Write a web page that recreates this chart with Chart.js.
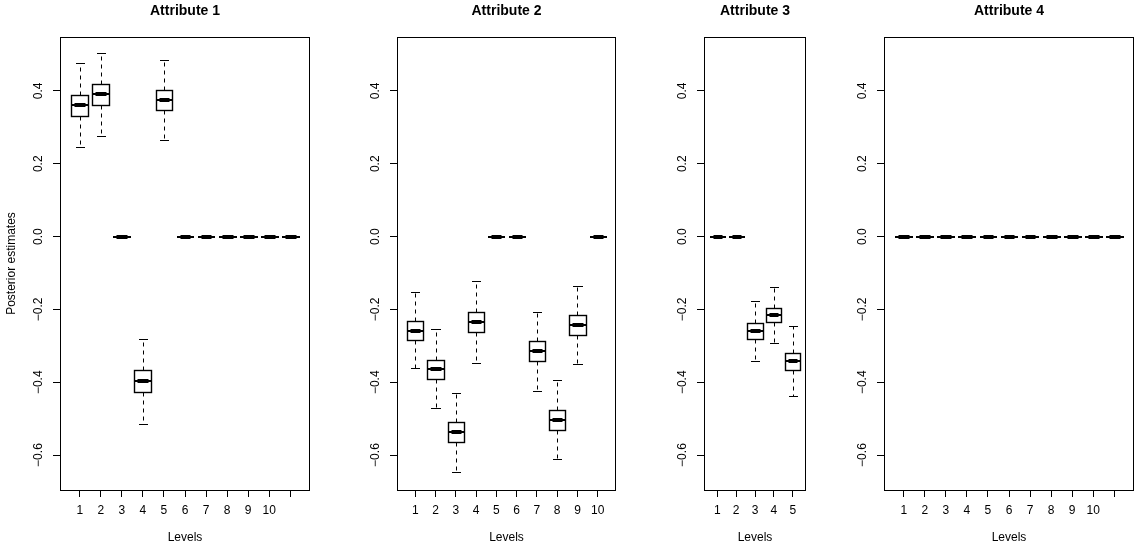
<!DOCTYPE html>
<html>
<head>
<meta charset="utf-8">
<script src="https://cdn.jsdelivr.net/npm/chart.js@4.4.1/dist/chart.umd.min.js"></script>
<style>
  html, body { margin: 0; padding: 0; background: #fff; }
  #wrap { position: relative; width: 1135px; height: 546px; overflow: hidden; }
  #wrap canvas { position: absolute; top: 0; }
</style>
</head>
<body>
<div id="wrap">
  <canvas id="c1"></canvas>
  <canvas id="c2"></canvas>
  <canvas id="c3"></canvas>
  <canvas id="c4"></canvas>
</div>
<script>
// posterior estimates per level: lower whisker, Q1, median, Q3, upper whisker
const attr1Levels = ['1', '2', '3', '4', '5', '6', '7', '8', '9', '10', ''];
const attr1Low  = [0.245, 0.277, 0, -0.515, 0.265, 0, 0, 0, 0, 0, 0];
const attr1Q1   = [0.332, 0.362, 0, -0.427, 0.348, 0, 0, 0, 0, 0, 0];
const attr1Med  = [0.361, 0.391, 0, -0.396, 0.375, 0, 0, 0, 0, 0, 0];
const attr1Q3   = [0.388, 0.420, 0, -0.367, 0.403, 0, 0, 0, 0, 0, 0];
const attr1High = [0.477, 0.503, 0, -0.280, 0.486, 0, 0, 0, 0, 0, 0];

const attr2Levels = ['1', '2', '3', '4', '5', '6', '7', '8', '9', '10'];
const attr2Low  = [-0.362, -0.472, -0.646, -0.347, 0, 0, -0.423, -0.611, -0.351, 0];
const attr2Q1   = [-0.285, -0.392, -0.565, -0.263, 0, 0, -0.342, -0.530, -0.269, 0];
const attr2Med  = [-0.258, -0.364, -0.538, -0.236, 0, 0, -0.314, -0.503, -0.243, 0];
const attr2Q3   = [-0.232, -0.338, -0.510, -0.207, 0, 0, -0.288, -0.476, -0.216, 0];
const attr2High = [-0.153, -0.255, -0.429, -0.123, 0, 0, -0.206, -0.395, -0.136, 0];

const attr3Levels = ['1', '2', '3', '4', '5'];
const attr3Low  = [0, 0, -0.342, -0.292, -0.439];
const attr3Q1   = [0, 0, -0.280, -0.235, -0.367];
const attr3Med  = [0, 0, -0.258, -0.215, -0.342];
const attr3Q3   = [0, 0, -0.238, -0.197, -0.320];
const attr3High = [0, 0, -0.176, -0.139, -0.246];

const attr4Levels = ['1', '2', '3', '4', '5', '6', '7', '8', '9', '10', ''];
const attr4Low  = [0, 0, 0, 0, 0, 0, 0, 0, 0, 0, 0];
const attr4Q1   = [0, 0, 0, 0, 0, 0, 0, 0, 0, 0, 0];
const attr4Med  = [0, 0, 0, 0, 0, 0, 0, 0, 0, 0, 0];
const attr4Q3   = [0, 0, 0, 0, 0, 0, 0, 0, 0, 0, 0];
const attr4High = [0, 0, 0, 0, 0, 0, 0, 0, 0, 0, 0];

const yMin = -0.696, yMax = 0.548;

Chart.defaults.font.family = '"Liberation Sans", Arial, Helvetica, sans-serif';
Chart.defaults.font.size = 12;
Chart.defaults.color = '#000';

const panels = [
  { id: 'c1', title: 'Attribute 1', levels: attr1Levels, low: attr1Low, q1: attr1Q1, med: attr1Med, q3: attr1Q3, high: attr1High,
    left: 0, width: 320, axisW: 60, padRight: 10, yTitle: true },
  { id: 'c2', title: 'Attribute 2', levels: attr2Levels, low: attr2Low, q1: attr2Q1, med: attr2Med, q3: attr2Q3, high: attr2High,
    left: 352, width: 274, axisW: 45, padRight: 10, yTitle: false },
  { id: 'c3', title: 'Attribute 3', levels: attr3Levels, low: attr3Low, q1: attr3Q1, med: attr3Med, q3: attr3Q3, high: attr3High,
    left: 659, width: 157, axisW: 45, padRight: 10, yTitle: false },
  { id: 'c4', title: 'Attribute 4', levels: attr4Levels, low: attr4Low, q1: attr4Q1, med: attr4Med, q3: attr4Q3, high: attr4High,
    left: 839, width: 296, axisW: 45, padRight: 1, yTitle: false }
];

function fmt(v) {
  if (Math.abs(v) < 1e-9) v = 0;
  return v.toFixed(1).replace('-', '\u2212');
}

// box outlines, whiskers, staples, medians, frame and rotated y labels (R boxplot look)
function boxPlugin(p) {
  return {
    id: 'boxExtras',
    afterDatasetsDraw(chart) {
      const ctx = chart.ctx, ys = chart.scales.y;
      const meta = chart.getDatasetMeta(0);
      ctx.save();
      ctx.strokeStyle = '#000';
      ctx.fillStyle = '#000';
      p.med.forEach((m, i) => {
        const bar = meta.data[i];
        const cx = bar.x;
        const half = bar.width / 2;
        const px = Math.round(cx) + 0.5;
        const l = Math.round(cx - half) + 0.5, r = Math.round(cx + half) + 0.5;
        const yq1 = Math.round(ys.getPixelForValue(p.q1[i])) + 0.5;
        const yq3 = Math.round(ys.getPixelForValue(p.q3[i])) + 0.5;
        const ylo = Math.round(ys.getPixelForValue(p.low[i])) + 0.5;
        const yhi = Math.round(ys.getPixelForValue(p.high[i])) + 0.5;
        ctx.lineWidth = 1;
        if (p.high[i] !== p.low[i]) {
          ctx.setLineDash([4, 4]);
          ctx.beginPath();
          ctx.moveTo(px, yq3); ctx.lineTo(px, yhi);
          ctx.moveTo(px, yq1); ctx.lineTo(px, ylo);
          ctx.stroke();
          ctx.setLineDash([]);
          ctx.beginPath();
          ctx.moveTo(Math.round(cx - half / 2), yhi); ctx.lineTo(Math.round(cx + half / 2) + 1, yhi);
          ctx.moveTo(Math.round(cx - half / 2), ylo); ctx.lineTo(Math.round(cx + half / 2) + 1, ylo);
          ctx.stroke();
          ctx.lineWidth = 1.4;
          ctx.strokeRect(l, yq3, r - l, yq1 - yq3);
        }
        const ym = Math.round(ys.getPixelForValue(m));
        ctx.fillRect(l - 0.5, ym - 1, r - l + 1, 2);
        ctx.fillRect(l + 3, ym - 2, r - l - 6, 4);
      });
      ctx.restore();
    },
    afterDraw(chart) {
      const ctx = chart.ctx, a = chart.chartArea, ys = chart.scales.y;
      ctx.save();
      ctx.strokeStyle = '#000';
      ctx.lineWidth = 1;
      ctx.strokeRect(a.left + 0.5, a.top + 0.5, a.right - a.left - 1, a.bottom - a.top);
      ctx.font = '12px "Liberation Sans", Arial, sans-serif';
      ctx.fillStyle = '#000';
      ctx.textAlign = 'center';
      ctx.textBaseline = 'middle';
      ys.ticks.forEach(t => {
        ctx.save();
        ctx.translate(a.left - 21, ys.getPixelForValue(t.value));
        ctx.rotate(-Math.PI / 2);
        ctx.fillText(fmt(t.value), 0, 0);
        ctx.restore();
      });
      ctx.restore();
    }
  };
}

panels.forEach(p => {
  const canvas = document.getElementById(p.id);
  canvas.width = p.width;
  canvas.height = 546;
  canvas.style.left = p.left + 'px';
  const n = p.levels.length;

  new Chart(canvas, {
    type: 'bar',
    data: {
      datasets: [{
        data: p.q1.map((v, i) => ({ x: i + 1, y: [v, p.q3[i]] })),
        backgroundColor: '#fff',
        borderWidth: 0,
        barPercentage: 0.8,
        categoryPercentage: 1
      }]
    },
    options: {
      responsive: false,
      animation: false,
      events: [],
      layout: { padding: { left: 0, right: p.padRight, top: 0, bottom: 0 } },
      plugins: {
        legend: { display: false },
        tooltip: { enabled: false },
        title: {
          display: true,
          text: p.title,
          fullSize: false,
          font: { size: 14, weight: 'bold' },
          color: '#000',
          padding: { top: 3, bottom: 17.2 }
        }
      },
      scales: {
        x: {
          type: 'linear',
          offset: false,
          min: 0.5 - 0.04 * n,
          max: n + 0.5 + 0.04 * n,
          afterFit: s => { s.height = 56; },
          border: { display: false },
          grid: { offset: false, drawOnChartArea: false, drawTicks: true, tickLength: 7, color: '#000' },
          ticks: {
            stepSize: 1,
            includeBounds: false,
            autoSkip: false,
            maxRotation: 0,
            padding: 6,
            font: { size: 12 },
            callback: (v, i) => p.levels[i] !== undefined ? p.levels[i] : ''
          },
          title: { display: true, text: 'Levels', font: { size: 12 }, padding: { top: 0, bottom: 1 } }
        },
        y: {
          min: yMin,
          max: yMax,
          afterFit: s => { s.width = p.axisW; },
          border: { display: false },
          grid: { drawOnChartArea: false, drawTicks: true, tickLength: 7, color: '#000' },
          ticks: { stepSize: 0.2, includeBounds: false, display: false },
          title: { display: p.yTitle, text: 'Posterior estimates', font: { size: 12 }, padding: { top: 4, bottom: 0 } }
        }
      }
    },
    plugins: [boxPlugin(p)]
  });
});
</script>
</body>
</html>
